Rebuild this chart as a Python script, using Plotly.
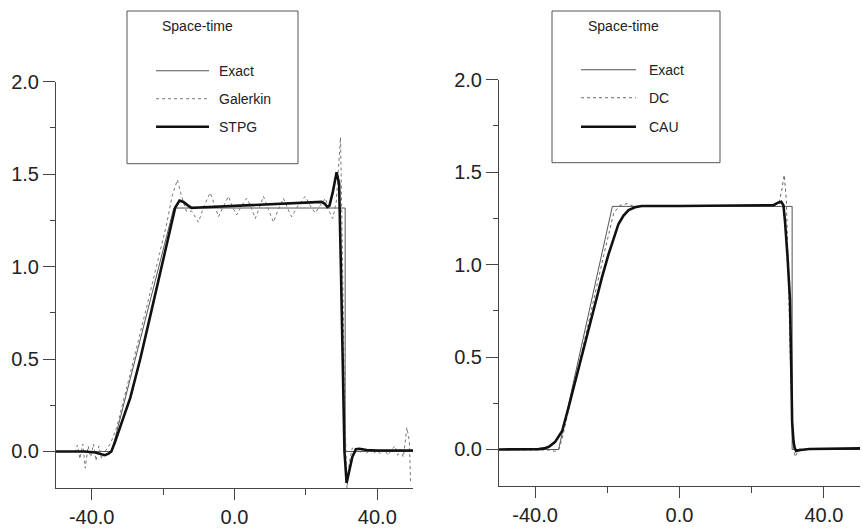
import plotly.graph_objects as go

W, H = 863, 532

# ---------------- data ----------------
# Left panel
exact_l_x = [-50, -34.4, -17.0, 31.0, 31.0, 50]
exact_l_y = [0, 0, 1.317, 1.317, 0, 0]

galerkin_x = [-50, -46, -44.6, -44.0, -43.3, -42.5, -41.8, -41.0, -40.3, -39.5, -38.8, -38.0, -37.2,
              -36.3, -35.5, -34.6, -33.0, -30.0, -27.0, -24.0, -21.0, -19.0, -17.5, -16.0, -14.8,
              -13.5, -12.0, -10.1, -8.5, -6.8, -5.5, -4.5, -3.0, -1.7, -0.5, 0.6, 2.0, 3.4, 4.5,
              5.8, 7.0, 8.1, 9.5, 10.9, 12.3, 13.7, 15.0, 16.0, 17.8, 19.8, 21.2, 22.6, 24.0, 25.5,
              26.5, 27.5, 28.5, 29.7, 30.2, 30.8, 31.5, 32.2, 33.0, 33.8, 34.5, 35.3, 36.0, 37.0,
              38.0, 39.0, 40.0, 41.0, 42.0, 43.0, 44.0, 45.0, 45.7, 46.5, 47.3, 48.3, 49.0, 49.3, 50]
galerkin_y = [0, 0, 0.0, 0.035, -0.04, 0.04, -0.09, 0.03, -0.03, 0.04, -0.05, 0.03, -0.04,
              0.0, 0.02, 0.05, 0.13, 0.36, 0.59, 0.83, 1.07, 1.23, 1.38, 1.47, 1.38,
              1.30, 1.30, 1.24, 1.33, 1.40, 1.33, 1.27, 1.33, 1.38, 1.32, 1.28, 1.33, 1.37, 1.33,
              1.26, 1.32, 1.38, 1.31, 1.24, 1.31, 1.37, 1.31, 1.27, 1.33, 1.38, 1.33, 1.29, 1.33, 1.37,
              1.30, 1.26, 1.35, 1.70, 1.10, 0.30, -0.20, -0.05, 0.02, -0.01, 0.015, -0.005, 0.02, -0.01,
              0.015, -0.01, 0.005, -0.015, 0.01, -0.02, 0.01, 0.03, -0.02, 0.01, -0.03, 0.13, 0.05, -0.16, -0.16]

stpg_x = [-50, -42, -39, -37.5, -36.3, -35.3, -34.5, -33.5, -32.5, -31.0, -29.2, -26.4, -23.4,
          -20.4, -19.0, -17.8, -16.6, -15.4, -14.3, -13.0, -12.0, -10.0, 0.0, 10.0, 20.0, 24.4,
          25.3, 26.0, 26.6, 27.5, 28.6, 29.3, 29.8, 30.3, 30.8, 31.4, 32.0, 33.0, 34.0, 35.0,
          37.0, 40.0, 50.0]
stpg_y = [0, 0, -0.005, -0.015, -0.02, -0.012, 0.0, 0.05, 0.11, 0.19, 0.29, 0.50, 0.75,
          1.00, 1.12, 1.23, 1.32, 1.357, 1.35, 1.33, 1.318, 1.32, 1.328, 1.336, 1.344, 1.35,
          1.34, 1.322, 1.33, 1.40, 1.51, 1.45, 1.00, 0.40, 0.0, -0.17, -0.12, -0.03, 0.012, 0.015,
          0.008, 0.005, 0.005]

# Right panel
exact_r_x = [-50, -33.5, -18.6, 31.2, 31.2, 50]
exact_r_y = [0, 0, 1.315, 1.315, 0, 0]

dc_x = [-50, -40, -36, -34.5, -33.4, -32.5, -30.0, -27.0, -24.0, -21.0, -19.2, -18.2, -16.5,
        -14.5, -13.0, -11.0, 0.0, 20.0, 26.0, 27.5, 28.3, 29.0, 29.6, 30.2, 30.8, 31.5, 32.0,
        32.6, 33.3, 34.0, 50.0]
dc_y = [0, 0, -0.003, -0.01, 0.0, 0.06, 0.27, 0.53, 0.79, 1.05, 1.20, 1.28, 1.32,
        1.33, 1.318, 1.314, 1.317, 1.317, 1.318, 1.33, 1.40, 1.485, 1.35, 0.90, 0.40, 0.05, -0.04,
        -0.02, 0.005, 0.0, 0.0]

cau_x = [-50, -42, -39, -37.5, -36.2, -34.5, -32.5, -30.7, -29.0, -27.0, -25.0, -23.3, -21.5,
         -19.6, -18.2, -16.9, -15.5, -14.1, -12.3, -10.5, 0.0, 20.0, 26.0, 27.3, 28.2, 28.8, 29.2,
         29.9, 30.6, 31.0, 31.2, 31.6, 31.9, 32.3, 33.5, 36.0, 50.0]
cau_y = [0, 0, 0.002, 0.006, 0.015, 0.04, 0.10, 0.23, 0.36, 0.50, 0.65, 0.79, 0.93,
         1.06, 1.15, 1.22, 1.265, 1.295, 1.31, 1.317, 1.317, 1.318, 1.322, 1.335, 1.34, 1.32, 1.24,
         1.05, 0.81, 0.40, 0.15, 0.04, 0.01, -0.008, -0.003, 0.003, 0.006]

x_tickvals = [-40, 0, 40]
x_ticktext = ["-40.0", "0.0", "40.0"]
x_minor = [-20, 20]
y_tickvals = [0, 0.5, 1.0, 1.5, 2.0]
y_ticktext = ["0.0", "0.5", "1.0", "1.5", "2.0"]
y_minor = [0.25, 0.75, 1.25, 1.75]

legend_title = "Space-time"
left_names = ["Exact", "Galerkin", "STPG"]
right_names = ["Exact", "DC", "CAU"]

# ---------------- styles ----------------
INK = "#222222"
THIN = dict(color="#555555", width=1)
DOT = dict(color="#777777", width=1, dash="dot")
DASH = dict(color="#666666", width=1, dash="3px,3px")
THICK = dict(color="#111111", width=2.6)
FONT = "Liberation Sans, Arial, sans-serif"

fig = go.Figure()
fig.add_trace(go.Scatter(x=exact_l_x, y=exact_l_y, mode="lines", line=THIN, name=left_names[0], xaxis="x", yaxis="y"))
fig.add_trace(go.Scatter(x=galerkin_x, y=galerkin_y, mode="lines", line=DOT, name=left_names[1], xaxis="x", yaxis="y"))
fig.add_trace(go.Scatter(x=stpg_x, y=stpg_y, mode="lines", line=THICK, name=left_names[2], xaxis="x", yaxis="y"))
fig.add_trace(go.Scatter(x=exact_r_x, y=exact_r_y, mode="lines", line=THIN, name=right_names[0], xaxis="x2", yaxis="y2"))
fig.add_trace(go.Scatter(x=dc_x, y=dc_y, mode="lines", line=DASH, name=right_names[1], xaxis="x2", yaxis="y2"))
fig.add_trace(go.Scatter(x=cau_x, y=cau_y, mode="lines", line=THICK, name=right_names[2], xaxis="x2", yaxis="y2"))


# measured: the photographed picture maps page-y to about 10.2 + 0.98*y (x unchanged)
def px(x):
    return x / W


def py(y):
    page = max(0.0, (y - 10.2) / 0.98)
    return 1 - page / H


def xaxis(domain, anchor):
    return dict(domain=domain, anchor=anchor, range=[-50, 50], showgrid=False, zeroline=False,
                showline=True, linecolor="#444444", linewidth=1,
                ticks="outside", ticklen=11, tickwidth=1, tickcolor="#444444",
                tickvals=x_tickvals, ticktext=x_ticktext,
                tickfont=dict(family=FONT, size=20, color=INK),
                minor=dict(tickvals=x_minor, ticks="outside", ticklen=6, tickcolor="#444444", showgrid=False))


def yaxis(domain, anchor):
    return dict(domain=domain, anchor=anchor, range=[-0.2, 2.0], showgrid=False, zeroline=False,
                showline=True, linecolor="#444444", linewidth=1,
                ticks="outside", ticklen=12, tickwidth=1, tickcolor="#444444",
                tickvals=y_tickvals, ticktext=y_ticktext,
                tickfont=dict(family=FONT, size=20, color=INK),
                minor=dict(tickvals=y_minor, ticks="outside", ticklen=5, tickcolor="#444444", showgrid=False))


shapes = []
annotations = []


def add_legend(box, title_xy, line_x, text_x, rows, names, styles):
    x0, y0, x1, y1 = box
    shapes.append(dict(type="rect", xref="paper", yref="paper", x0=px(x0), x1=px(x1), y0=py(y1), y1=py(y0),
                       line=dict(color="#555555", width=1), fillcolor="rgba(0,0,0,0)"))
    annotations.append(dict(text=legend_title, xref="paper", yref="paper", x=px(title_xy[0]), y=py(title_xy[1]),
                            xanchor="left", yanchor="middle", showarrow=False,
                            font=dict(family=FONT, size=14, color=INK)))
    for r, n, s in zip(rows, names, styles):
        shapes.append(dict(type="line", xref="paper", yref="paper", x0=px(line_x[0]), x1=px(line_x[1]),
                           y0=py(r), y1=py(r), line=s))
        annotations.append(dict(text=n, xref="paper", yref="paper", x=px(text_x), y=py(r),
                                xanchor="left", yanchor="middle", showarrow=False,
                                font=dict(family=FONT, size=14, color=INK)))


add_legend((127, 7, 298, 163), (160, 25), (156, 209), 217, [70, 98, 126], left_names, [THIN, DOT, THICK])
add_legend((552, 5, 720, 162), (586, 25), (581, 636), 647, [69, 97, 126], right_names, [THIN, DASH, THICK])

fig.update_layout(
    width=W, height=H, autosize=False,
    margin=dict(l=0, r=0, t=0, b=0),
    paper_bgcolor="white", plot_bgcolor="white",
    showlegend=False,
    xaxis=xaxis([px(56), px(413)], "y"),
    yaxis=yaxis([py(488), py(81)], "x"),
    xaxis2=xaxis([px(499), px(860)], "y2"),
    yaxis2=yaxis([py(486), py(79)], "x2"),
    shapes=shapes,
    annotations=annotations,
)

fig.write_html("out.html", config={"displayModeBar": False},
               post_script="document.body.style.margin='0px';")
